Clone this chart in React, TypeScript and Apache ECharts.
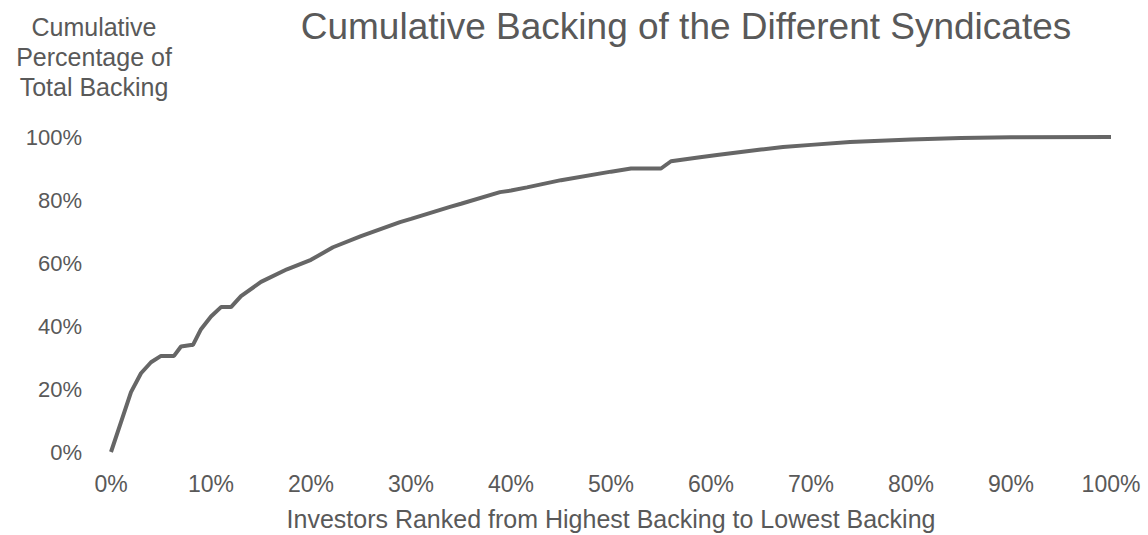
import React, { useEffect, useRef } from "react";
import * as echarts from "echarts";

const investorShare = [
  0, 1, 2, 3, 4, 5, 6, 6.3, 7, 8, 8.2, 9, 10, 11, 12, 13, 15, 17.6, 20, 22.2,
  25, 28.9, 30, 33.9, 35, 38.9, 40, 41.6, 45, 50, 52, 55, 56, 58.9, 60.6, 65,
  67.2, 70, 73.9, 80, 85, 90, 100,
];
const cumulativeBacking = [
  0, 9.5, 19, 25, 28.5, 30.5, 30.5, 30.5, 33.5, 34, 34, 39, 43, 46, 46, 49.5,
  54, 58, 61, 65, 68.5, 73, 74, 77.8, 78.8, 82.5, 83, 84, 86.3, 89, 90, 90,
  92.3, 93.6, 94.3, 96, 96.8, 97.5, 98.4, 99.2, 99.7, 99.9, 100,
];
const xTicks = [0, 10, 20, 30, 40, 50, 60, 70, 80, 90, 100];
const yTicks = [0, 20, 40, 60, 80, 100];

const titleText = "Cumulative Backing of the Different Syndicates";
const yAxisName = "Cumulative\nPercentage of\nTotal Backing";
const xAxisName = "Investors Ranked from Highest Backing to Lowest Backing";

const FONT = "Liberation Sans, Arial, sans-serif";
const TEXT = "#595959";

export default function App() {
  const ref = useRef<HTMLDivElement>(null);
  useEffect(() => {
    if (!ref.current) return;
    const chart = echarts.init(ref.current, null, { renderer: "svg" });
    const data = investorShare.map((x, i) => [x, cumulativeBacking[i]]);
    chart.setOption({
      animation: false,
      backgroundColor: "#ffffff",
      title: {
        text: titleText,
        left: 681,
        top: 3,
        textAlign: "center",
        textStyle: { fontFamily: FONT, fontSize: 37, fontWeight: "normal", color: TEXT },
      },
      graphic: [
        {
          type: "text",
          x: 94,
          y: 12,
          style: {
            text: yAxisName,
            x: 0,
            y: 0,
            textAlign: "center",
            textVerticalAlign: "top",
            fontFamily: FONT,
            fontSize: 25,
            lineHeight: 30,
            fill: TEXT,
          },
        },
      ],
      grid: {
        left: 111,
        right: 37,
        top: 137,
        bottom: 83,
        containLabel: false,
        outerBoundsMode: "none",
      },
      xAxis: {
        type: "value",
        min: xTicks[0],
        max: xTicks[xTicks.length - 1],
        interval: 10,
        name: xAxisName,
        nameLocation: "middle",
        nameGap: 54,
        nameTextStyle: { fontFamily: FONT, fontSize: 25, color: TEXT },
        axisLine: { show: false },
        axisTick: { show: false },
        splitLine: { show: false },
        axisLabel: {
          formatter: (v: number) => `${v}%`,
          fontFamily: FONT,
          fontSize: 23,
          color: TEXT,
          margin: 20,
        },
      },
      yAxis: {
        type: "value",
        min: yTicks[0],
        max: yTicks[yTicks.length - 1],
        interval: 20,
        axisLine: { show: false },
        axisTick: { show: false },
        splitLine: { show: false },
        axisLabel: {
          formatter: (v: number) => `${v}%`,
          fontFamily: FONT,
          fontSize: 22,
          color: TEXT,
          margin: 29,
        },
      },
      series: [
        {
          type: "line",
          data,
          showSymbol: false,
          smooth: false,
          lineStyle: { color: "#666666", width: 4 },
        },
      ],
    });
    return () => chart.dispose();
  }, []);
  return (
    <div
      ref={ref}
      style={{ position: "fixed", left: 0, top: 0, width: 1148, height: 535 }}
    />
  );
}
